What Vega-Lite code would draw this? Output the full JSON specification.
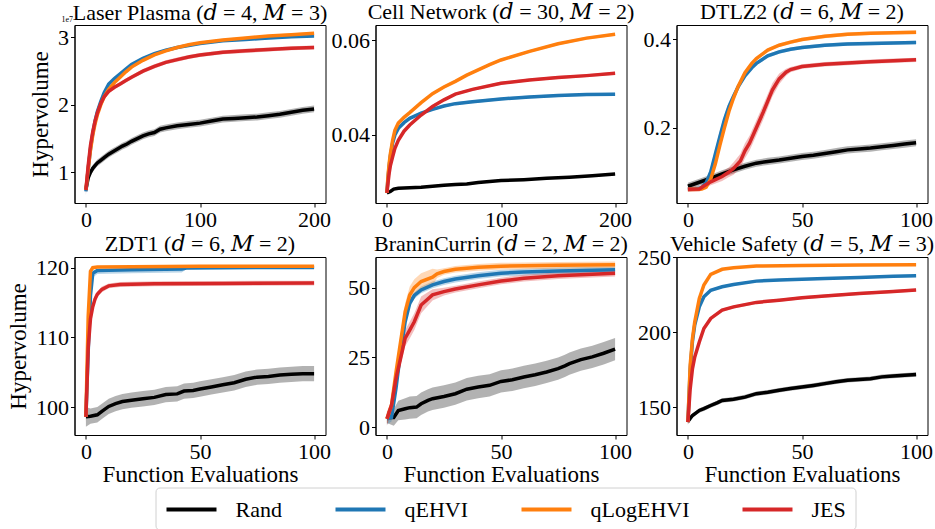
{
"$schema": "https://vega.github.io/schema/vega-lite/v6.json",
"background": "#ffffff",
"padding": {"left": 6.5, "top": 0, "right": 0, "bottom": 0},
"columns": 3,
"spacing": {"row": 54, "column": 50},
"bounds": "flush",
"datasets": {"d": [
{"p":"LP","s":"Rand","x":0,"m":0.75,"lo":0.71,"hi":0.79},
{"p":"LP","s":"Rand","x":2,"m":0.92,"lo":0.87,"hi":0.97},
{"p":"LP","s":"Rand","x":4,"m":1.0,"lo":0.95,"hi":1.05},
{"p":"LP","s":"Rand","x":6,"m":1.06,"lo":1.01,"hi":1.11},
{"p":"LP","s":"Rand","x":8,"m":1.1,"lo":1.05,"hi":1.15},
{"p":"LP","s":"Rand","x":10,"m":1.14,"lo":1.09,"hi":1.19},
{"p":"LP","s":"Rand","x":13,"m":1.18,"lo":1.13,"hi":1.23},
{"p":"LP","s":"Rand","x":16,"m":1.22,"lo":1.17,"hi":1.27},
{"p":"LP","s":"Rand","x":20,"m":1.27,"lo":1.22,"hi":1.32},
{"p":"LP","s":"Rand","x":24,"m":1.31,"lo":1.26,"hi":1.36},
{"p":"LP","s":"Rand","x":28,"m":1.35,"lo":1.3,"hi":1.4},
{"p":"LP","s":"Rand","x":32,"m":1.39,"lo":1.34,"hi":1.44},
{"p":"LP","s":"Rand","x":36,"m":1.42,"lo":1.37,"hi":1.47},
{"p":"LP","s":"Rand","x":40,"m":1.46,"lo":1.41,"hi":1.51},
{"p":"LP","s":"Rand","x":45,"m":1.5,"lo":1.45,"hi":1.55},
{"p":"LP","s":"Rand","x":50,"m":1.54,"lo":1.49,"hi":1.59},
{"p":"LP","s":"Rand","x":55,"m":1.57,"lo":1.52,"hi":1.62},
{"p":"LP","s":"Rand","x":60,"m":1.59,"lo":1.54,"hi":1.64},
{"p":"LP","s":"Rand","x":65,"m":1.64,"lo":1.59,"hi":1.69},
{"p":"LP","s":"Rand","x":70,"m":1.66,"lo":1.61,"hi":1.71},
{"p":"LP","s":"Rand","x":80,"m":1.69,"lo":1.64,"hi":1.74},
{"p":"LP","s":"Rand","x":90,"m":1.71,"lo":1.66,"hi":1.76},
{"p":"LP","s":"Rand","x":100,"m":1.73,"lo":1.68,"hi":1.78},
{"p":"LP","s":"Rand","x":110,"m":1.76,"lo":1.71,"hi":1.81},
{"p":"LP","s":"Rand","x":120,"m":1.79,"lo":1.74,"hi":1.84},
{"p":"LP","s":"Rand","x":130,"m":1.8,"lo":1.75,"hi":1.85},
{"p":"LP","s":"Rand","x":140,"m":1.81,"lo":1.76,"hi":1.86},
{"p":"LP","s":"Rand","x":150,"m":1.82,"lo":1.77,"hi":1.87},
{"p":"LP","s":"Rand","x":160,"m":1.84,"lo":1.79,"hi":1.89},
{"p":"LP","s":"Rand","x":170,"m":1.86,"lo":1.81,"hi":1.91},
{"p":"LP","s":"Rand","x":180,"m":1.89,"lo":1.84,"hi":1.94},
{"p":"LP","s":"Rand","x":190,"m":1.92,"lo":1.87,"hi":1.97},
{"p":"LP","s":"Rand","x":200,"m":1.94,"lo":1.89,"hi":1.99},
{"p":"LP","s":"qEHVI","x":0,"m":0.72,"lo":0.68,"hi":0.76},
{"p":"LP","s":"qEHVI","x":2,"m":1.05,"lo":1.03,"hi":1.07},
{"p":"LP","s":"qEHVI","x":4,"m":1.35,"lo":1.33,"hi":1.37},
{"p":"LP","s":"qEHVI","x":6,"m":1.58,"lo":1.56,"hi":1.6},
{"p":"LP","s":"qEHVI","x":8,"m":1.76,"lo":1.74,"hi":1.78},
{"p":"LP","s":"qEHVI","x":10,"m":1.9,"lo":1.88,"hi":1.92},
{"p":"LP","s":"qEHVI","x":13,"m":2.05,"lo":2.03,"hi":2.07},
{"p":"LP","s":"qEHVI","x":16,"m":2.18,"lo":2.16,"hi":2.2},
{"p":"LP","s":"qEHVI","x":20,"m":2.31,"lo":2.29,"hi":2.33},
{"p":"LP","s":"qEHVI","x":25,"m":2.39,"lo":2.37,"hi":2.41},
{"p":"LP","s":"qEHVI","x":30,"m":2.46,"lo":2.44,"hi":2.48},
{"p":"LP","s":"qEHVI","x":35,"m":2.53,"lo":2.51,"hi":2.55},
{"p":"LP","s":"qEHVI","x":40,"m":2.6,"lo":2.58,"hi":2.62},
{"p":"LP","s":"qEHVI","x":50,"m":2.69,"lo":2.67,"hi":2.71},
{"p":"LP","s":"qEHVI","x":60,"m":2.76,"lo":2.74,"hi":2.78},
{"p":"LP","s":"qEHVI","x":70,"m":2.81,"lo":2.79,"hi":2.83},
{"p":"LP","s":"qEHVI","x":80,"m":2.85,"lo":2.83,"hi":2.87},
{"p":"LP","s":"qEHVI","x":90,"m":2.88,"lo":2.86,"hi":2.9},
{"p":"LP","s":"qEHVI","x":100,"m":2.91,"lo":2.89,"hi":2.93},
{"p":"LP","s":"qEHVI","x":120,"m":2.95,"lo":2.93,"hi":2.97},
{"p":"LP","s":"qEHVI","x":140,"m":2.97,"lo":2.95,"hi":2.99},
{"p":"LP","s":"qEHVI","x":160,"m":2.99,"lo":2.97,"hi":3.01},
{"p":"LP","s":"qEHVI","x":180,"m":3.01,"lo":2.99,"hi":3.03},
{"p":"LP","s":"qEHVI","x":200,"m":3.02,"lo":3.0,"hi":3.04},
{"p":"LP","s":"qLogEHVI","x":0,"m":0.74,"lo":0.7,"hi":0.78},
{"p":"LP","s":"qLogEHVI","x":2,"m":1.05,"lo":1.03,"hi":1.07},
{"p":"LP","s":"qLogEHVI","x":4,"m":1.33,"lo":1.31,"hi":1.35},
{"p":"LP","s":"qLogEHVI","x":6,"m":1.55,"lo":1.53,"hi":1.57},
{"p":"LP","s":"qLogEHVI","x":8,"m":1.72,"lo":1.7,"hi":1.74},
{"p":"LP","s":"qLogEHVI","x":10,"m":1.85,"lo":1.83,"hi":1.87},
{"p":"LP","s":"qLogEHVI","x":13,"m":2.0,"lo":1.98,"hi":2.02},
{"p":"LP","s":"qLogEHVI","x":16,"m":2.12,"lo":2.1,"hi":2.14},
{"p":"LP","s":"qLogEHVI","x":20,"m":2.23,"lo":2.21,"hi":2.25},
{"p":"LP","s":"qLogEHVI","x":25,"m":2.33,"lo":2.31,"hi":2.35},
{"p":"LP","s":"qLogEHVI","x":30,"m":2.41,"lo":2.39,"hi":2.43},
{"p":"LP","s":"qLogEHVI","x":35,"m":2.49,"lo":2.47,"hi":2.51},
{"p":"LP","s":"qLogEHVI","x":40,"m":2.56,"lo":2.54,"hi":2.58},
{"p":"LP","s":"qLogEHVI","x":50,"m":2.66,"lo":2.64,"hi":2.68},
{"p":"LP","s":"qLogEHVI","x":60,"m":2.74,"lo":2.72,"hi":2.76},
{"p":"LP","s":"qLogEHVI","x":70,"m":2.8,"lo":2.78,"hi":2.82},
{"p":"LP","s":"qLogEHVI","x":80,"m":2.85,"lo":2.83,"hi":2.87},
{"p":"LP","s":"qLogEHVI","x":90,"m":2.89,"lo":2.87,"hi":2.91},
{"p":"LP","s":"qLogEHVI","x":100,"m":2.92,"lo":2.9,"hi":2.94},
{"p":"LP","s":"qLogEHVI","x":120,"m":2.96,"lo":2.94,"hi":2.98},
{"p":"LP","s":"qLogEHVI","x":140,"m":2.99,"lo":2.97,"hi":3.01},
{"p":"LP","s":"qLogEHVI","x":160,"m":3.02,"lo":3.0,"hi":3.04},
{"p":"LP","s":"qLogEHVI","x":180,"m":3.04,"lo":3.02,"hi":3.06},
{"p":"LP","s":"qLogEHVI","x":200,"m":3.06,"lo":3.04,"hi":3.08},
{"p":"LP","s":"JES","x":0,"m":0.74,"lo":0.66,"hi":0.8},
{"p":"LP","s":"JES","x":2,"m":1.1,"lo":1.07,"hi":1.13},
{"p":"LP","s":"JES","x":4,"m":1.4,"lo":1.37,"hi":1.43},
{"p":"LP","s":"JES","x":6,"m":1.6,"lo":1.57,"hi":1.63},
{"p":"LP","s":"JES","x":8,"m":1.76,"lo":1.73,"hi":1.79},
{"p":"LP","s":"JES","x":10,"m":1.88,"lo":1.85,"hi":1.91},
{"p":"LP","s":"JES","x":13,"m":2.02,"lo":1.99,"hi":2.05},
{"p":"LP","s":"JES","x":16,"m":2.12,"lo":2.09,"hi":2.15},
{"p":"LP","s":"JES","x":20,"m":2.2,"lo":2.17,"hi":2.23},
{"p":"LP","s":"JES","x":25,"m":2.26,"lo":2.23,"hi":2.29},
{"p":"LP","s":"JES","x":30,"m":2.31,"lo":2.28,"hi":2.34},
{"p":"LP","s":"JES","x":35,"m":2.36,"lo":2.33,"hi":2.39},
{"p":"LP","s":"JES","x":40,"m":2.41,"lo":2.38,"hi":2.44},
{"p":"LP","s":"JES","x":50,"m":2.5,"lo":2.47,"hi":2.53},
{"p":"LP","s":"JES","x":60,"m":2.57,"lo":2.54,"hi":2.6},
{"p":"LP","s":"JES","x":70,"m":2.63,"lo":2.6,"hi":2.66},
{"p":"LP","s":"JES","x":80,"m":2.67,"lo":2.64,"hi":2.7},
{"p":"LP","s":"JES","x":90,"m":2.71,"lo":2.68,"hi":2.74},
{"p":"LP","s":"JES","x":100,"m":2.74,"lo":2.71,"hi":2.77},
{"p":"LP","s":"JES","x":120,"m":2.78,"lo":2.75,"hi":2.81},
{"p":"LP","s":"JES","x":140,"m":2.8,"lo":2.77,"hi":2.83},
{"p":"LP","s":"JES","x":160,"m":2.82,"lo":2.79,"hi":2.85},
{"p":"LP","s":"JES","x":180,"m":2.84,"lo":2.81,"hi":2.87},
{"p":"LP","s":"JES","x":200,"m":2.85,"lo":2.82,"hi":2.88},

{"p":"CN","s":"Rand","x":0,"m":0.0278,"lo":0.0276,"hi":0.028},
{"p":"CN","s":"Rand","x":3,"m":0.0281,"lo":0.0279,"hi":0.0283},
{"p":"CN","s":"Rand","x":6,"m":0.0286,"lo":0.0284,"hi":0.0288},
{"p":"CN","s":"Rand","x":10,"m":0.0288,"lo":0.0286,"hi":0.029},
{"p":"CN","s":"Rand","x":20,"m":0.0289,"lo":0.0287,"hi":0.0291},
{"p":"CN","s":"Rand","x":30,"m":0.029,"lo":0.0288,"hi":0.0292},
{"p":"CN","s":"Rand","x":40,"m":0.0292,"lo":0.029,"hi":0.0294},
{"p":"CN","s":"Rand","x":50,"m":0.0294,"lo":0.0292,"hi":0.0296},
{"p":"CN","s":"Rand","x":60,"m":0.0296,"lo":0.0294,"hi":0.0298},
{"p":"CN","s":"Rand","x":70,"m":0.0297,"lo":0.0295,"hi":0.0299},
{"p":"CN","s":"Rand","x":80,"m":0.03,"lo":0.0298,"hi":0.0302},
{"p":"CN","s":"Rand","x":90,"m":0.0302,"lo":0.03,"hi":0.0304},
{"p":"CN","s":"Rand","x":100,"m":0.0304,"lo":0.0302,"hi":0.0306},
{"p":"CN","s":"Rand","x":120,"m":0.0306,"lo":0.0304,"hi":0.0308},
{"p":"CN","s":"Rand","x":140,"m":0.0309,"lo":0.0307,"hi":0.0311},
{"p":"CN","s":"Rand","x":160,"m":0.0311,"lo":0.0309,"hi":0.0313},
{"p":"CN","s":"Rand","x":180,"m":0.0314,"lo":0.0312,"hi":0.0316},
{"p":"CN","s":"Rand","x":200,"m":0.0318,"lo":0.0316,"hi":0.032},
{"p":"CN","s":"qEHVI","x":0,"m":0.0278,"lo":0.0276,"hi":0.028},
{"p":"CN","s":"qEHVI","x":1,"m":0.031,"lo":0.0307,"hi":0.0313},
{"p":"CN","s":"qEHVI","x":2,"m":0.0335,"lo":0.0332,"hi":0.0338},
{"p":"CN","s":"qEHVI","x":3,"m":0.0355,"lo":0.0352,"hi":0.0358},
{"p":"CN","s":"qEHVI","x":5,"m":0.0383,"lo":0.038,"hi":0.0386},
{"p":"CN","s":"qEHVI","x":7,"m":0.04,"lo":0.0397,"hi":0.0403},
{"p":"CN","s":"qEHVI","x":10,"m":0.0414,"lo":0.0411,"hi":0.0417},
{"p":"CN","s":"qEHVI","x":15,"m":0.0426,"lo":0.0423,"hi":0.0429},
{"p":"CN","s":"qEHVI","x":20,"m":0.0435,"lo":0.0432,"hi":0.0438},
{"p":"CN","s":"qEHVI","x":30,"m":0.0446,"lo":0.0443,"hi":0.0449},
{"p":"CN","s":"qEHVI","x":40,"m":0.0454,"lo":0.0451,"hi":0.0457},
{"p":"CN","s":"qEHVI","x":50,"m":0.0461,"lo":0.0458,"hi":0.0464},
{"p":"CN","s":"qEHVI","x":60,"m":0.0466,"lo":0.0463,"hi":0.0469},
{"p":"CN","s":"qEHVI","x":75,"m":0.047,"lo":0.0467,"hi":0.0473},
{"p":"CN","s":"qEHVI","x":100,"m":0.0476,"lo":0.0473,"hi":0.0479},
{"p":"CN","s":"qEHVI","x":125,"m":0.048,"lo":0.0477,"hi":0.0483},
{"p":"CN","s":"qEHVI","x":150,"m":0.0483,"lo":0.048,"hi":0.0486},
{"p":"CN","s":"qEHVI","x":175,"m":0.0485,"lo":0.0482,"hi":0.0488},
{"p":"CN","s":"qEHVI","x":200,"m":0.0486,"lo":0.0483,"hi":0.0489},
{"p":"CN","s":"qLogEHVI","x":0,"m":0.0278,"lo":0.0276,"hi":0.028},
{"p":"CN","s":"qLogEHVI","x":1,"m":0.0315,"lo":0.0312,"hi":0.0318},
{"p":"CN","s":"qLogEHVI","x":2,"m":0.034,"lo":0.0337,"hi":0.0343},
{"p":"CN","s":"qLogEHVI","x":3,"m":0.036,"lo":0.0357,"hi":0.0363},
{"p":"CN","s":"qLogEHVI","x":5,"m":0.0389,"lo":0.0386,"hi":0.0392},
{"p":"CN","s":"qLogEHVI","x":7,"m":0.041,"lo":0.0407,"hi":0.0413},
{"p":"CN","s":"qLogEHVI","x":10,"m":0.0425,"lo":0.0422,"hi":0.0428},
{"p":"CN","s":"qLogEHVI","x":15,"m":0.0437,"lo":0.0434,"hi":0.044},
{"p":"CN","s":"qLogEHVI","x":20,"m":0.0447,"lo":0.0444,"hi":0.045},
{"p":"CN","s":"qLogEHVI","x":30,"m":0.0468,"lo":0.0465,"hi":0.0471},
{"p":"CN","s":"qLogEHVI","x":40,"m":0.0487,"lo":0.0484,"hi":0.049},
{"p":"CN","s":"qLogEHVI","x":50,"m":0.0501,"lo":0.0498,"hi":0.0504},
{"p":"CN","s":"qLogEHVI","x":60,"m":0.0513,"lo":0.051,"hi":0.0516},
{"p":"CN","s":"qLogEHVI","x":70,"m":0.0526,"lo":0.0523,"hi":0.0529},
{"p":"CN","s":"qLogEHVI","x":80,"m":0.0537,"lo":0.0534,"hi":0.054},
{"p":"CN","s":"qLogEHVI","x":90,"m":0.0548,"lo":0.0545,"hi":0.0551},
{"p":"CN","s":"qLogEHVI","x":100,"m":0.0558,"lo":0.0555,"hi":0.0561},
{"p":"CN","s":"qLogEHVI","x":125,"m":0.0576,"lo":0.0573,"hi":0.0579},
{"p":"CN","s":"qLogEHVI","x":150,"m":0.0592,"lo":0.0589,"hi":0.0595},
{"p":"CN","s":"qLogEHVI","x":175,"m":0.0604,"lo":0.0601,"hi":0.0607},
{"p":"CN","s":"qLogEHVI","x":200,"m":0.0612,"lo":0.0609,"hi":0.0615},
{"p":"CN","s":"JES","x":0,"m":0.0278,"lo":0.0276,"hi":0.028},
{"p":"CN","s":"JES","x":1,"m":0.03,"lo":0.0297,"hi":0.0303},
{"p":"CN","s":"JES","x":2,"m":0.032,"lo":0.0317,"hi":0.0323},
{"p":"CN","s":"JES","x":3,"m":0.0335,"lo":0.0332,"hi":0.0338},
{"p":"CN","s":"JES","x":5,"m":0.0354,"lo":0.0351,"hi":0.0357},
{"p":"CN","s":"JES","x":7,"m":0.0372,"lo":0.0369,"hi":0.0375},
{"p":"CN","s":"JES","x":10,"m":0.0389,"lo":0.0386,"hi":0.0392},
{"p":"CN","s":"JES","x":15,"m":0.0408,"lo":0.0405,"hi":0.0411},
{"p":"CN","s":"JES","x":20,"m":0.0421,"lo":0.0418,"hi":0.0424},
{"p":"CN","s":"JES","x":30,"m":0.0442,"lo":0.0439,"hi":0.0445},
{"p":"CN","s":"JES","x":40,"m":0.046,"lo":0.0457,"hi":0.0463},
{"p":"CN","s":"JES","x":50,"m":0.0474,"lo":0.0471,"hi":0.0477},
{"p":"CN","s":"JES","x":60,"m":0.0486,"lo":0.0483,"hi":0.0489},
{"p":"CN","s":"JES","x":75,"m":0.0496,"lo":0.0493,"hi":0.0499},
{"p":"CN","s":"JES","x":100,"m":0.0509,"lo":0.0506,"hi":0.0512},
{"p":"CN","s":"JES","x":125,"m":0.0516,"lo":0.0513,"hi":0.0519},
{"p":"CN","s":"JES","x":150,"m":0.0521,"lo":0.0518,"hi":0.0524},
{"p":"CN","s":"JES","x":175,"m":0.0525,"lo":0.0522,"hi":0.0528},
{"p":"CN","s":"JES","x":200,"m":0.053,"lo":0.0527,"hi":0.0533},

{"p":"DT","s":"Rand","x":0,"m":0.068,"lo":0.06,"hi":0.076},
{"p":"DT","s":"Rand","x":5,"m":0.077,"lo":0.069,"hi":0.085},
{"p":"DT","s":"Rand","x":10,"m":0.086,"lo":0.078,"hi":0.094},
{"p":"DT","s":"Rand","x":15,"m":0.096,"lo":0.088,"hi":0.104},
{"p":"DT","s":"Rand","x":20,"m":0.105,"lo":0.097,"hi":0.113},
{"p":"DT","s":"Rand","x":25,"m":0.113,"lo":0.105,"hi":0.121},
{"p":"DT","s":"Rand","x":30,"m":0.12,"lo":0.112,"hi":0.128},
{"p":"DT","s":"Rand","x":35,"m":0.124,"lo":0.116,"hi":0.132},
{"p":"DT","s":"Rand","x":40,"m":0.127,"lo":0.119,"hi":0.135},
{"p":"DT","s":"Rand","x":45,"m":0.131,"lo":0.123,"hi":0.139},
{"p":"DT","s":"Rand","x":50,"m":0.135,"lo":0.127,"hi":0.143},
{"p":"DT","s":"Rand","x":55,"m":0.138,"lo":0.13,"hi":0.146},
{"p":"DT","s":"Rand","x":60,"m":0.142,"lo":0.134,"hi":0.15},
{"p":"DT","s":"Rand","x":65,"m":0.146,"lo":0.138,"hi":0.154},
{"p":"DT","s":"Rand","x":70,"m":0.15,"lo":0.142,"hi":0.158},
{"p":"DT","s":"Rand","x":75,"m":0.152,"lo":0.144,"hi":0.16},
{"p":"DT","s":"Rand","x":80,"m":0.154,"lo":0.146,"hi":0.162},
{"p":"DT","s":"Rand","x":85,"m":0.157,"lo":0.149,"hi":0.165},
{"p":"DT","s":"Rand","x":90,"m":0.16,"lo":0.152,"hi":0.168},
{"p":"DT","s":"Rand","x":95,"m":0.163,"lo":0.155,"hi":0.171},
{"p":"DT","s":"Rand","x":100,"m":0.166,"lo":0.158,"hi":0.174},
{"p":"DT","s":"qEHVI","x":0,"m":0.061,"lo":0.056,"hi":0.066},
{"p":"DT","s":"qEHVI","x":3,"m":0.062,"lo":0.058,"hi":0.066},
{"p":"DT","s":"qEHVI","x":6,"m":0.064,"lo":0.06,"hi":0.068},
{"p":"DT","s":"qEHVI","x":8,"m":0.076,"lo":0.068,"hi":0.084},
{"p":"DT","s":"qEHVI","x":10,"m":0.1,"lo":0.088,"hi":0.112},
{"p":"DT","s":"qEHVI","x":12,"m":0.14,"lo":0.128,"hi":0.152},
{"p":"DT","s":"qEHVI","x":14,"m":0.18,"lo":0.168,"hi":0.192},
{"p":"DT","s":"qEHVI","x":16,"m":0.218,"lo":0.206,"hi":0.23},
{"p":"DT","s":"qEHVI","x":18,"m":0.248,"lo":0.238,"hi":0.258},
{"p":"DT","s":"qEHVI","x":20,"m":0.271,"lo":0.263,"hi":0.279},
{"p":"DT","s":"qEHVI","x":22,"m":0.292,"lo":0.286,"hi":0.298},
{"p":"DT","s":"qEHVI","x":25,"m":0.317,"lo":0.313,"hi":0.321},
{"p":"DT","s":"qEHVI","x":28,"m":0.335,"lo":0.331,"hi":0.339},
{"p":"DT","s":"qEHVI","x":30,"m":0.345,"lo":0.341,"hi":0.349},
{"p":"DT","s":"qEHVI","x":35,"m":0.362,"lo":0.358,"hi":0.366},
{"p":"DT","s":"qEHVI","x":40,"m":0.371,"lo":0.367,"hi":0.375},
{"p":"DT","s":"qEHVI","x":45,"m":0.377,"lo":0.373,"hi":0.381},
{"p":"DT","s":"qEHVI","x":50,"m":0.381,"lo":0.377,"hi":0.385},
{"p":"DT","s":"qEHVI","x":60,"m":0.386,"lo":0.382,"hi":0.39},
{"p":"DT","s":"qEHVI","x":70,"m":0.389,"lo":0.385,"hi":0.393},
{"p":"DT","s":"qEHVI","x":80,"m":0.39,"lo":0.386,"hi":0.394},
{"p":"DT","s":"qEHVI","x":90,"m":0.391,"lo":0.387,"hi":0.395},
{"p":"DT","s":"qEHVI","x":100,"m":0.392,"lo":0.388,"hi":0.396},
{"p":"DT","s":"qLogEHVI","x":0,"m":0.061,"lo":0.055,"hi":0.067},
{"p":"DT","s":"qLogEHVI","x":3,"m":0.061,"lo":0.056,"hi":0.066},
{"p":"DT","s":"qLogEHVI","x":6,"m":0.062,"lo":0.057,"hi":0.067},
{"p":"DT","s":"qLogEHVI","x":8,"m":0.066,"lo":0.061,"hi":0.071},
{"p":"DT","s":"qLogEHVI","x":10,"m":0.084,"lo":0.078,"hi":0.09},
{"p":"DT","s":"qLogEHVI","x":12,"m":0.118,"lo":0.112,"hi":0.124},
{"p":"DT","s":"qLogEHVI","x":14,"m":0.16,"lo":0.154,"hi":0.166},
{"p":"DT","s":"qLogEHVI","x":16,"m":0.2,"lo":0.194,"hi":0.206},
{"p":"DT","s":"qLogEHVI","x":18,"m":0.237,"lo":0.231,"hi":0.243},
{"p":"DT","s":"qLogEHVI","x":20,"m":0.267,"lo":0.262,"hi":0.272},
{"p":"DT","s":"qLogEHVI","x":22,"m":0.293,"lo":0.289,"hi":0.297},
{"p":"DT","s":"qLogEHVI","x":25,"m":0.324,"lo":0.32,"hi":0.328},
{"p":"DT","s":"qLogEHVI","x":28,"m":0.345,"lo":0.341,"hi":0.349},
{"p":"DT","s":"qLogEHVI","x":30,"m":0.356,"lo":0.352,"hi":0.36},
{"p":"DT","s":"qLogEHVI","x":35,"m":0.375,"lo":0.371,"hi":0.379},
{"p":"DT","s":"qLogEHVI","x":40,"m":0.386,"lo":0.382,"hi":0.39},
{"p":"DT","s":"qLogEHVI","x":45,"m":0.393,"lo":0.389,"hi":0.397},
{"p":"DT","s":"qLogEHVI","x":50,"m":0.399,"lo":0.395,"hi":0.403},
{"p":"DT","s":"qLogEHVI","x":60,"m":0.406,"lo":0.402,"hi":0.41},
{"p":"DT","s":"qLogEHVI","x":70,"m":0.411,"lo":0.407,"hi":0.415},
{"p":"DT","s":"qLogEHVI","x":80,"m":0.413,"lo":0.409,"hi":0.417},
{"p":"DT","s":"qLogEHVI","x":90,"m":0.414,"lo":0.41,"hi":0.418},
{"p":"DT","s":"qLogEHVI","x":100,"m":0.415,"lo":0.411,"hi":0.419},
{"p":"DT","s":"JES","x":0,"m":0.061,"lo":0.055,"hi":0.067},
{"p":"DT","s":"JES","x":5,"m":0.062,"lo":0.056,"hi":0.068},
{"p":"DT","s":"JES","x":8,"m":0.072,"lo":0.065,"hi":0.079},
{"p":"DT","s":"JES","x":10,"m":0.078,"lo":0.07,"hi":0.086},
{"p":"DT","s":"JES","x":15,"m":0.09,"lo":0.08,"hi":0.1},
{"p":"DT","s":"JES","x":18,"m":0.1,"lo":0.089,"hi":0.111},
{"p":"DT","s":"JES","x":20,"m":0.108,"lo":0.094,"hi":0.122},
{"p":"DT","s":"JES","x":23,"m":0.125,"lo":0.109,"hi":0.141},
{"p":"DT","s":"JES","x":25,"m":0.148,"lo":0.131,"hi":0.165},
{"p":"DT","s":"JES","x":27,"m":0.165,"lo":0.148,"hi":0.182},
{"p":"DT","s":"JES","x":30,"m":0.2,"lo":0.183,"hi":0.217},
{"p":"DT","s":"JES","x":33,"m":0.235,"lo":0.218,"hi":0.252},
{"p":"DT","s":"JES","x":35,"m":0.26,"lo":0.244,"hi":0.276},
{"p":"DT","s":"JES","x":37,"m":0.285,"lo":0.27,"hi":0.3},
{"p":"DT","s":"JES","x":40,"m":0.31,"lo":0.298,"hi":0.322},
{"p":"DT","s":"JES","x":43,"m":0.325,"lo":0.317,"hi":0.333},
{"p":"DT","s":"JES","x":45,"m":0.331,"lo":0.325,"hi":0.337},
{"p":"DT","s":"JES","x":50,"m":0.338,"lo":0.333,"hi":0.343},
{"p":"DT","s":"JES","x":60,"m":0.343,"lo":0.338,"hi":0.348},
{"p":"DT","s":"JES","x":70,"m":0.346,"lo":0.341,"hi":0.351},
{"p":"DT","s":"JES","x":80,"m":0.349,"lo":0.344,"hi":0.354},
{"p":"DT","s":"JES","x":90,"m":0.351,"lo":0.346,"hi":0.356},
{"p":"DT","s":"JES","x":100,"m":0.353,"lo":0.348,"hi":0.358},

{"p":"ZD","s":"Rand","x":0,"m":98.6,"lo":97.2,"hi":100.0},
{"p":"ZD","s":"Rand","x":2,"m":98.7,"lo":97.6,"hi":99.8},
{"p":"ZD","s":"Rand","x":5,"m":98.9,"lo":97.8,"hi":100.0},
{"p":"ZD","s":"Rand","x":7,"m":99.4,"lo":98.3,"hi":100.5},
{"p":"ZD","s":"Rand","x":10,"m":100.1,"lo":99.0,"hi":101.2},
{"p":"ZD","s":"Rand","x":13,"m":100.5,"lo":99.4,"hi":101.6},
{"p":"ZD","s":"Rand","x":16,"m":100.8,"lo":99.7,"hi":101.9},
{"p":"ZD","s":"Rand","x":20,"m":101.0,"lo":99.9,"hi":102.1},
{"p":"ZD","s":"Rand","x":25,"m":101.2,"lo":100.1,"hi":102.3},
{"p":"ZD","s":"Rand","x":30,"m":101.4,"lo":100.3,"hi":102.5},
{"p":"ZD","s":"Rand","x":35,"m":101.8,"lo":100.7,"hi":102.9},
{"p":"ZD","s":"Rand","x":40,"m":101.9,"lo":100.8,"hi":103.0},
{"p":"ZD","s":"Rand","x":43,"m":102.3,"lo":101.2,"hi":103.4},
{"p":"ZD","s":"Rand","x":47,"m":102.4,"lo":101.3,"hi":103.5},
{"p":"ZD","s":"Rand","x":50,"m":102.6,"lo":101.5,"hi":103.7},
{"p":"ZD","s":"Rand","x":55,"m":102.9,"lo":101.8,"hi":104.0},
{"p":"ZD","s":"Rand","x":60,"m":103.2,"lo":102.1,"hi":104.3},
{"p":"ZD","s":"Rand","x":65,"m":103.5,"lo":102.4,"hi":104.6},
{"p":"ZD","s":"Rand","x":70,"m":104.0,"lo":102.9,"hi":105.1},
{"p":"ZD","s":"Rand","x":75,"m":104.3,"lo":103.2,"hi":105.4},
{"p":"ZD","s":"Rand","x":80,"m":104.4,"lo":103.3,"hi":105.5},
{"p":"ZD","s":"Rand","x":85,"m":104.6,"lo":103.5,"hi":105.7},
{"p":"ZD","s":"Rand","x":90,"m":104.7,"lo":103.6,"hi":105.8},
{"p":"ZD","s":"Rand","x":95,"m":104.8,"lo":103.7,"hi":105.9},
{"p":"ZD","s":"Rand","x":100,"m":104.8,"lo":103.7,"hi":105.9},
{"p":"ZD","s":"qEHVI","x":0,"m":98.6,"lo":98.2,"hi":99.0},
{"p":"ZD","s":"qEHVI","x":1,"m":108.0,"lo":107.0,"hi":109.0},
{"p":"ZD","s":"qEHVI","x":2,"m":116.0,"lo":115.0,"hi":117.0},
{"p":"ZD","s":"qEHVI","x":3,"m":119.2,"lo":118.6,"hi":119.6},
{"p":"ZD","s":"qEHVI","x":5,"m":119.6,"lo":119.1,"hi":119.8},
{"p":"ZD","s":"qEHVI","x":20,"m":119.7,"lo":119.2,"hi":119.9},
{"p":"ZD","s":"qEHVI","x":42,"m":119.8,"lo":119.3,"hi":120.0},
{"p":"ZD","s":"qEHVI","x":44,"m":119.95,"lo":119.8,"hi":120.1},
{"p":"ZD","s":"qEHVI","x":60,"m":120.0,"lo":119.85,"hi":120.15},
{"p":"ZD","s":"qEHVI","x":100,"m":120.05,"lo":119.9,"hi":120.2},
{"p":"ZD","s":"qLogEHVI","x":0,"m":98.6,"lo":98.2,"hi":99.0},
{"p":"ZD","s":"qLogEHVI","x":1,"m":113.0,"lo":112.5,"hi":113.5},
{"p":"ZD","s":"qLogEHVI","x":2,"m":119.5,"lo":119.2,"hi":119.8},
{"p":"ZD","s":"qLogEHVI","x":3,"m":120.0,"lo":119.85,"hi":120.15},
{"p":"ZD","s":"qLogEHVI","x":5,"m":120.1,"lo":119.95,"hi":120.25},
{"p":"ZD","s":"qLogEHVI","x":50,"m":120.2,"lo":120.05,"hi":120.35},
{"p":"ZD","s":"qLogEHVI","x":100,"m":120.2,"lo":120.05,"hi":120.35},
{"p":"ZD","s":"JES","x":0,"m":98.6,"lo":97.8,"hi":99.2},
{"p":"ZD","s":"JES","x":1,"m":108.5,"lo":107.8,"hi":109.2},
{"p":"ZD","s":"JES","x":2,"m":112.7,"lo":112.1,"hi":113.3},
{"p":"ZD","s":"JES","x":3,"m":114.4,"lo":113.9,"hi":114.9},
{"p":"ZD","s":"JES","x":4,"m":115.5,"lo":115.0,"hi":116.0},
{"p":"ZD","s":"JES","x":5,"m":116.2,"lo":115.8,"hi":116.6},
{"p":"ZD","s":"JES","x":7,"m":116.9,"lo":116.5,"hi":117.3},
{"p":"ZD","s":"JES","x":10,"m":117.4,"lo":117.05,"hi":117.75},
{"p":"ZD","s":"JES","x":15,"m":117.6,"lo":117.25,"hi":117.95},
{"p":"ZD","s":"JES","x":30,"m":117.7,"lo":117.35,"hi":118.05},
{"p":"ZD","s":"JES","x":60,"m":117.75,"lo":117.4,"hi":118.1},
{"p":"ZD","s":"JES","x":100,"m":117.8,"lo":117.45,"hi":118.15},

{"p":"BC","s":"Rand","x":0,"m":3.5,"lo":1.5,"hi":5.5},
{"p":"BC","s":"Rand","x":3,"m":3.5,"lo":0.5,"hi":6.5},
{"p":"BC","s":"Rand","x":5,"m":6.0,"lo":2.5,"hi":9.5},
{"p":"BC","s":"Rand","x":8,"m":6.6,"lo":2.8,"hi":10.4},
{"p":"BC","s":"Rand","x":10,"m":7.0,"lo":3.0,"hi":11.0},
{"p":"BC","s":"Rand","x":13,"m":7.2,"lo":3.2,"hi":11.2},
{"p":"BC","s":"Rand","x":15,"m":8.4,"lo":4.4,"hi":12.4},
{"p":"BC","s":"Rand","x":18,"m":9.6,"lo":5.6,"hi":13.6},
{"p":"BC","s":"Rand","x":20,"m":10.2,"lo":6.2,"hi":14.2},
{"p":"BC","s":"Rand","x":25,"m":11.0,"lo":7.0,"hi":15.0},
{"p":"BC","s":"Rand","x":30,"m":12.0,"lo":8.0,"hi":16.0},
{"p":"BC","s":"Rand","x":35,"m":13.6,"lo":9.6,"hi":17.6},
{"p":"BC","s":"Rand","x":40,"m":14.4,"lo":10.4,"hi":18.4},
{"p":"BC","s":"Rand","x":45,"m":15.0,"lo":11.0,"hi":19.0},
{"p":"BC","s":"Rand","x":50,"m":16.4,"lo":12.4,"hi":20.4},
{"p":"BC","s":"Rand","x":55,"m":17.0,"lo":13.0,"hi":21.0},
{"p":"BC","s":"Rand","x":60,"m":18.0,"lo":14.0,"hi":22.0},
{"p":"BC","s":"Rand","x":65,"m":18.8,"lo":14.8,"hi":22.8},
{"p":"BC","s":"Rand","x":70,"m":19.8,"lo":15.8,"hi":23.8},
{"p":"BC","s":"Rand","x":75,"m":21.0,"lo":17.0,"hi":25.0},
{"p":"BC","s":"Rand","x":78,"m":22.0,"lo":18.0,"hi":26.0},
{"p":"BC","s":"Rand","x":80,"m":22.8,"lo":18.8,"hi":26.8},
{"p":"BC","s":"Rand","x":85,"m":24.2,"lo":20.2,"hi":28.2},
{"p":"BC","s":"Rand","x":90,"m":25.2,"lo":21.2,"hi":29.2},
{"p":"BC","s":"Rand","x":95,"m":26.5,"lo":22.5,"hi":30.5},
{"p":"BC","s":"Rand","x":100,"m":28.0,"lo":24.0,"hi":32.0},
{"p":"BC","s":"qEHVI","x":0,"m":3.0,"lo":1.0,"hi":5.0},
{"p":"BC","s":"qEHVI","x":2,"m":3.5,"lo":2.0,"hi":5.0},
{"p":"BC","s":"qEHVI","x":4,"m":14.0,"lo":12.0,"hi":16.0},
{"p":"BC","s":"qEHVI","x":6,"m":27.0,"lo":25.0,"hi":29.0},
{"p":"BC","s":"qEHVI","x":8,"m":37.8,"lo":36.0,"hi":39.6},
{"p":"BC","s":"qEHVI","x":10,"m":44.4,"lo":42.9,"hi":45.9},
{"p":"BC","s":"qEHVI","x":12,"m":47.2,"lo":46.0,"hi":48.4},
{"p":"BC","s":"qEHVI","x":15,"m":49.2,"lo":48.0,"hi":50.4},
{"p":"BC","s":"qEHVI","x":20,"m":51.0,"lo":49.8,"hi":52.2},
{"p":"BC","s":"qEHVI","x":25,"m":52.2,"lo":51.0,"hi":53.4},
{"p":"BC","s":"qEHVI","x":30,"m":53.1,"lo":51.9,"hi":54.3},
{"p":"BC","s":"qEHVI","x":40,"m":54.3,"lo":53.1,"hi":55.5},
{"p":"BC","s":"qEHVI","x":50,"m":55.2,"lo":54.0,"hi":56.4},
{"p":"BC","s":"qEHVI","x":60,"m":55.6,"lo":54.4,"hi":56.8},
{"p":"BC","s":"qEHVI","x":75,"m":56.0,"lo":54.8,"hi":57.2},
{"p":"BC","s":"qEHVI","x":100,"m":56.4,"lo":55.2,"hi":57.6},
{"p":"BC","s":"qLogEHVI","x":0,"m":3.0,"lo":1.0,"hi":5.0},
{"p":"BC","s":"qLogEHVI","x":2,"m":7.8,"lo":6.0,"hi":9.6},
{"p":"BC","s":"qLogEHVI","x":4,"m":19.8,"lo":17.5,"hi":22.1},
{"p":"BC","s":"qLogEHVI","x":6,"m":30.6,"lo":27.6,"hi":33.6},
{"p":"BC","s":"qLogEHVI","x":8,"m":41.4,"lo":38.4,"hi":44.4},
{"p":"BC","s":"qLogEHVI","x":10,"m":47.4,"lo":44.4,"hi":50.4},
{"p":"BC","s":"qLogEHVI","x":12,"m":50.0,"lo":47.0,"hi":53.0},
{"p":"BC","s":"qLogEHVI","x":15,"m":52.2,"lo":49.2,"hi":55.2},
{"p":"BC","s":"qLogEHVI","x":20,"m":53.8,"lo":50.8,"hi":56.8},
{"p":"BC","s":"qLogEHVI","x":22,"m":55.0,"lo":53.5,"hi":56.5},
{"p":"BC","s":"qLogEHVI","x":25,"m":55.8,"lo":54.6,"hi":57.0},
{"p":"BC","s":"qLogEHVI","x":30,"m":56.6,"lo":55.4,"hi":57.8},
{"p":"BC","s":"qLogEHVI","x":40,"m":57.3,"lo":56.1,"hi":58.5},
{"p":"BC","s":"qLogEHVI","x":50,"m":57.7,"lo":56.5,"hi":58.9},
{"p":"BC","s":"qLogEHVI","x":75,"m":58.0,"lo":56.8,"hi":59.2},
{"p":"BC","s":"qLogEHVI","x":100,"m":58.2,"lo":57.0,"hi":59.4},
{"p":"BC","s":"JES","x":0,"m":3.0,"lo":0.5,"hi":5.5},
{"p":"BC","s":"JES","x":2,"m":7.8,"lo":6.0,"hi":9.6},
{"p":"BC","s":"JES","x":4,"m":17.5,"lo":15.5,"hi":19.5},
{"p":"BC","s":"JES","x":6,"m":24.7,"lo":22.5,"hi":26.9},
{"p":"BC","s":"JES","x":8,"m":31.9,"lo":29.0,"hi":34.8},
{"p":"BC","s":"JES","x":10,"m":34.8,"lo":31.8,"hi":37.8},
{"p":"BC","s":"JES","x":12,"m":37.8,"lo":34.8,"hi":40.8},
{"p":"BC","s":"JES","x":15,"m":43.8,"lo":40.8,"hi":46.8},
{"p":"BC","s":"JES","x":20,"m":47.4,"lo":45.4,"hi":49.4},
{"p":"BC","s":"JES","x":25,"m":48.6,"lo":47.2,"hi":50.0},
{"p":"BC","s":"JES","x":30,"m":49.5,"lo":48.3,"hi":50.7},
{"p":"BC","s":"JES","x":40,"m":51.0,"lo":49.8,"hi":52.2},
{"p":"BC","s":"JES","x":50,"m":52.4,"lo":51.2,"hi":53.6},
{"p":"BC","s":"JES","x":60,"m":53.4,"lo":52.2,"hi":54.6},
{"p":"BC","s":"JES","x":75,"m":54.3,"lo":53.1,"hi":55.5},
{"p":"BC","s":"JES","x":100,"m":55.2,"lo":54.0,"hi":56.4},

{"p":"VS","s":"Rand","x":0,"m":140.4,"lo":138.4,"hi":142.4},
{"p":"VS","s":"Rand","x":1,"m":142.5,"lo":141.0,"hi":144.0},
{"p":"VS","s":"Rand","x":2,"m":144.4,"lo":142.9,"hi":145.9},
{"p":"VS","s":"Rand","x":3,"m":145.5,"lo":144.0,"hi":147.0},
{"p":"VS","s":"Rand","x":5,"m":147.8,"lo":146.3,"hi":149.3},
{"p":"VS","s":"Rand","x":7,"m":149.0,"lo":147.5,"hi":150.5},
{"p":"VS","s":"Rand","x":10,"m":151.1,"lo":149.6,"hi":152.6},
{"p":"VS","s":"Rand","x":13,"m":153.0,"lo":151.5,"hi":154.5},
{"p":"VS","s":"Rand","x":15,"m":154.5,"lo":153.0,"hi":156.0},
{"p":"VS","s":"Rand","x":20,"m":155.2,"lo":153.7,"hi":156.7},
{"p":"VS","s":"Rand","x":25,"m":156.7,"lo":155.2,"hi":158.2},
{"p":"VS","s":"Rand","x":30,"m":159.0,"lo":157.5,"hi":160.5},
{"p":"VS","s":"Rand","x":35,"m":160.0,"lo":158.5,"hi":161.5},
{"p":"VS","s":"Rand","x":40,"m":161.2,"lo":159.7,"hi":162.7},
{"p":"VS","s":"Rand","x":45,"m":162.4,"lo":160.9,"hi":163.9},
{"p":"VS","s":"Rand","x":50,"m":163.4,"lo":161.9,"hi":164.9},
{"p":"VS","s":"Rand","x":55,"m":164.5,"lo":163.0,"hi":166.0},
{"p":"VS","s":"Rand","x":60,"m":165.7,"lo":164.2,"hi":167.2},
{"p":"VS","s":"Rand","x":65,"m":167.0,"lo":165.5,"hi":168.5},
{"p":"VS","s":"Rand","x":70,"m":167.9,"lo":166.4,"hi":169.4},
{"p":"VS","s":"Rand","x":75,"m":168.5,"lo":167.0,"hi":170.0},
{"p":"VS","s":"Rand","x":80,"m":169.0,"lo":167.5,"hi":170.5},
{"p":"VS","s":"Rand","x":85,"m":170.2,"lo":168.7,"hi":171.7},
{"p":"VS","s":"Rand","x":90,"m":170.8,"lo":169.3,"hi":172.3},
{"p":"VS","s":"Rand","x":95,"m":171.2,"lo":169.7,"hi":172.7},
{"p":"VS","s":"Rand","x":100,"m":171.7,"lo":170.2,"hi":173.2},
{"p":"VS","s":"qEHVI","x":0,"m":140.0,"lo":138.5,"hi":141.5},
{"p":"VS","s":"qEHVI","x":1,"m":175.0,"lo":173.5,"hi":176.5},
{"p":"VS","s":"qEHVI","x":2,"m":194.0,"lo":192.8,"hi":195.2},
{"p":"VS","s":"qEHVI","x":3,"m":205.0,"lo":204.0,"hi":206.0},
{"p":"VS","s":"qEHVI","x":5,"m":217.0,"lo":216.0,"hi":218.0},
{"p":"VS","s":"qEHVI","x":7,"m":223.6,"lo":222.8,"hi":224.4},
{"p":"VS","s":"qEHVI","x":10,"m":228.0,"lo":227.2,"hi":228.8},
{"p":"VS","s":"qEHVI","x":15,"m":230.3,"lo":229.5,"hi":231.1},
{"p":"VS","s":"qEHVI","x":20,"m":231.9,"lo":231.1,"hi":232.7},
{"p":"VS","s":"qEHVI","x":30,"m":234.1,"lo":233.3,"hi":234.9},
{"p":"VS","s":"qEHVI","x":40,"m":234.8,"lo":234.0,"hi":235.6},
{"p":"VS","s":"qEHVI","x":50,"m":235.3,"lo":234.5,"hi":236.1},
{"p":"VS","s":"qEHVI","x":60,"m":235.8,"lo":235.0,"hi":236.6},
{"p":"VS","s":"qEHVI","x":75,"m":236.6,"lo":235.8,"hi":237.4},
{"p":"VS","s":"qEHVI","x":90,"m":237.3,"lo":236.5,"hi":238.1},
{"p":"VS","s":"qEHVI","x":100,"m":237.7,"lo":236.9,"hi":238.5},
{"p":"VS","s":"qLogEHVI","x":0,"m":140.0,"lo":138.5,"hi":141.5},
{"p":"VS","s":"qLogEHVI","x":1,"m":178.0,"lo":176.5,"hi":179.5},
{"p":"VS","s":"qLogEHVI","x":2,"m":195.8,"lo":194.6,"hi":197.0},
{"p":"VS","s":"qLogEHVI","x":3,"m":206.9,"lo":205.9,"hi":207.9},
{"p":"VS","s":"qLogEHVI","x":5,"m":222.6,"lo":221.8,"hi":223.4},
{"p":"VS","s":"qLogEHVI","x":7,"m":231.5,"lo":230.8,"hi":232.2},
{"p":"VS","s":"qLogEHVI","x":10,"m":238.6,"lo":237.9,"hi":239.3},
{"p":"VS","s":"qLogEHVI","x":15,"m":242.0,"lo":241.3,"hi":242.7},
{"p":"VS","s":"qLogEHVI","x":20,"m":243.0,"lo":242.3,"hi":243.7},
{"p":"VS","s":"qLogEHVI","x":30,"m":244.2,"lo":243.5,"hi":244.9},
{"p":"VS","s":"qLogEHVI","x":50,"m":244.5,"lo":243.8,"hi":245.2},
{"p":"VS","s":"qLogEHVI","x":75,"m":244.8,"lo":244.1,"hi":245.5},
{"p":"VS","s":"qLogEHVI","x":100,"m":245.0,"lo":244.3,"hi":245.7},
{"p":"VS","s":"JES","x":0,"m":140.0,"lo":137.5,"hi":142.5},
{"p":"VS","s":"JES","x":1,"m":162.3,"lo":160.8,"hi":163.8},
{"p":"VS","s":"JES","x":2,"m":175.7,"lo":174.2,"hi":177.2},
{"p":"VS","s":"JES","x":3,"m":183.5,"lo":182.0,"hi":185.0},
{"p":"VS","s":"JES","x":5,"m":193.5,"lo":192.2,"hi":194.8},
{"p":"VS","s":"JES","x":7,"m":202.5,"lo":201.3,"hi":203.7},
{"p":"VS","s":"JES","x":10,"m":209.2,"lo":208.1,"hi":210.3},
{"p":"VS","s":"JES","x":15,"m":214.7,"lo":213.7,"hi":215.7},
{"p":"VS","s":"JES","x":20,"m":216.9,"lo":215.9,"hi":217.9},
{"p":"VS","s":"JES","x":30,"m":219.9,"lo":218.9,"hi":220.9},
{"p":"VS","s":"JES","x":40,"m":221.4,"lo":220.4,"hi":222.4},
{"p":"VS","s":"JES","x":50,"m":223.0,"lo":222.0,"hi":224.0},
{"p":"VS","s":"JES","x":60,"m":224.1,"lo":223.1,"hi":225.1},
{"p":"VS","s":"JES","x":75,"m":225.9,"lo":224.9,"hi":226.9},
{"p":"VS","s":"JES","x":90,"m":227.2,"lo":226.2,"hi":228.2},
{"p":"VS","s":"JES","x":100,"m":228.1,"lo":227.1,"hi":229.1}
]},
"concat": [
{
 "title": {"text": "Laser Plasma (\ud835\udc51 = 4, \ud835\udc40 = 3)", "dy": 11},
 "width": 251, "height": 178,
 "data": {"name": "d"},
 "transform": [{"filter": "datum.p === 'LP'"}],
 "resolve": {"axis": {"y": "independent"}},
 "layer": [
  {"mark": {"type": "area", "opacity": 0.3},
   "encoding": {
    "x": {"field": "x", "type": "quantitative", "title": null, "scale": {"domain": [-10, 210], "nice": false, "zero": false}, "axis": {"values": [0, 100, 200]}},
    "y": {"field": "lo", "type": "quantitative", "title": "Hypervolume", "scale": {"domain": [0.547, 3.183], "nice": false, "zero": false}, "axis": {"values": [1, 2, 3], "format": "d"}},
    "y2": {"field": "hi"},
    "fill": {"field": "s", "type": "nominal", "scale": {"domain": ["JES", "qLogEHVI", "qEHVI", "Rand"], "range": ["#d62728", "#ff7f0e", "#1f77b4", "#000000"]}, "legend": null}
   }},
  {"mark": {"type": "line", "strokeWidth": 3.5},
   "encoding": {
    "x": {"field": "x", "type": "quantitative", "title": null},
    "y": {"field": "m", "type": "quantitative", "axis": {"orient": "right", "title": "1e7", "titleAngle": 0, "titleX": -253, "titleY": -4, "titleAlign": "right", "titleBaseline": "alphabetic", "titleFontSize": 8, "titlePadding": 0, "labels": false, "ticks": false, "domain": false, "grid": false}},
    "color": {"field": "s", "type": "nominal", "title": null, "scale": {"domain": ["Rand", "qEHVI", "qLogEHVI", "JES"], "range": ["#000000", "#1f77b4", "#ff7f0e", "#d62728"]}, "legend": {"orient": "none", "legendX": 81, "legendY": 462.5, "labelFont": "Liberation Serif", "labelFontSize": 22}}
   }}
 ]
},
{
 "title": {"text": "Cell Network (\ud835\udc51 = 30, \ud835\udc40 = 2)"},
 "width": 251, "height": 178,
 "data": {"name": "d"},
 "transform": [{"filter": "datum.p === 'CN'"}],
 "layer": [
  {"mark": {"type": "area", "opacity": 0.3},
   "encoding": {
    "x": {"field": "x", "type": "quantitative", "title": null, "scale": {"domain": [-10, 210], "nice": false, "zero": false}, "axis": {"values": [0, 100, 200]}},
    "y": {"field": "lo", "type": "quantitative", "title": null, "scale": {"domain": [0.02568, 0.06316], "nice": false, "zero": false}, "axis": {"values": [0.04, 0.06], "format": ".2f"}},
    "y2": {"field": "hi"},
    "fill": {"field": "s", "type": "nominal", "scale": {"domain": ["JES", "qLogEHVI", "qEHVI", "Rand"], "range": ["#d62728", "#ff7f0e", "#1f77b4", "#000000"]}, "legend": null}
   }},
  {"mark": {"type": "line", "strokeWidth": 3.5},
   "encoding": {
    "x": {"field": "x", "type": "quantitative", "title": null},
    "y": {"field": "m", "type": "quantitative", "title": null},
    "color": {"field": "s", "type": "nominal", "title": null, "scale": {"domain": ["Rand", "qEHVI", "qLogEHVI", "JES"], "range": ["#000000", "#1f77b4", "#ff7f0e", "#d62728"]}, "legend": {"orient": "none", "legendX": 81, "legendY": 462.5, "labelFont": "Liberation Serif", "labelFontSize": 22}}
   }}
 ]
},
{
 "title": {"text": "DTLZ2 (\ud835\udc51 = 6, \ud835\udc40 = 2)"},
 "width": 251, "height": 178,
 "data": {"name": "d"},
 "transform": [{"filter": "datum.p === 'DT'"}],
 "layer": [
  {"mark": {"type": "area", "opacity": 0.3},
   "encoding": {
    "x": {"field": "x", "type": "quantitative", "title": null, "scale": {"domain": [-5, 105], "nice": false, "zero": false}, "axis": {"values": [0, 50, 100]}},
    "y": {"field": "lo", "type": "quantitative", "title": null, "scale": {"domain": [0.0302, 0.4316], "nice": false, "zero": false}, "axis": {"values": [0.2, 0.4], "format": ".1f"}},
    "y2": {"field": "hi"},
    "fill": {"field": "s", "type": "nominal", "scale": {"domain": ["JES", "qLogEHVI", "qEHVI", "Rand"], "range": ["#d62728", "#ff7f0e", "#1f77b4", "#000000"]}, "legend": null}
   }},
  {"mark": {"type": "line", "strokeWidth": 3.5},
   "encoding": {
    "x": {"field": "x", "type": "quantitative", "title": null},
    "y": {"field": "m", "type": "quantitative", "title": null},
    "color": {"field": "s", "type": "nominal", "title": null, "scale": {"domain": ["Rand", "qEHVI", "qLogEHVI", "JES"], "range": ["#000000", "#1f77b4", "#ff7f0e", "#d62728"]}, "legend": {"orient": "none", "legendX": 81, "legendY": 462.5, "labelFont": "Liberation Serif", "labelFontSize": 22}}
   }}
 ]
},
{
 "title": {"text": "ZDT1 (\ud835\udc51 = 6, \ud835\udc40 = 2)"},
 "width": 251, "height": 178,
 "data": {"name": "d"},
 "transform": [{"filter": "datum.p === 'ZD'"}],
 "layer": [
  {"mark": {"type": "area", "opacity": 0.3},
   "encoding": {
    "x": {"field": "x", "type": "quantitative", "title": "Function Evaluations", "scale": {"domain": [-5, 105], "nice": false, "zero": false}, "axis": {"values": [0, 50, 100]}},
    "y": {"field": "lo", "type": "quantitative", "title": "Hypervolume", "scale": {"domain": [96.0, 121.54], "nice": false, "zero": false}, "axis": {"values": [100, 110, 120]}},
    "y2": {"field": "hi"},
    "fill": {"field": "s", "type": "nominal", "scale": {"domain": ["JES", "qLogEHVI", "qEHVI", "Rand"], "range": ["#d62728", "#ff7f0e", "#1f77b4", "#000000"]}, "legend": null}
   }},
  {"mark": {"type": "line", "strokeWidth": 3.5},
   "encoding": {
    "x": {"field": "x", "type": "quantitative", "title": "Function Evaluations"},
    "y": {"field": "m", "type": "quantitative", "title": "Hypervolume"},
    "color": {"field": "s", "type": "nominal", "title": null, "scale": {"domain": ["Rand", "qEHVI", "qLogEHVI", "JES"], "range": ["#000000", "#1f77b4", "#ff7f0e", "#d62728"]}, "legend": {"orient": "none", "legendX": 81, "legendY": 462.5, "labelFont": "Liberation Serif", "labelFontSize": 22}}
   }}
 ]
},
{
 "title": {"text": "BraninCurrin (\ud835\udc51 = 2, \ud835\udc40 = 2)"},
 "width": 251, "height": 178,
 "data": {"name": "d"},
 "transform": [{"filter": "datum.p === 'BC'"}],
 "layer": [
  {"mark": {"type": "area", "opacity": 0.3},
   "encoding": {
    "x": {"field": "x", "type": "quantitative", "title": "Function Evaluations", "scale": {"domain": [-5, 105], "nice": false, "zero": false}, "axis": {"values": [0, 50, 100]}},
    "y": {"field": "lo", "type": "quantitative", "title": null, "scale": {"domain": [-2.8, 61.0], "nice": false, "zero": false}, "axis": {"values": [0, 25, 50]}},
    "y2": {"field": "hi"},
    "fill": {"field": "s", "type": "nominal", "scale": {"domain": ["JES", "qLogEHVI", "qEHVI", "Rand"], "range": ["#d62728", "#ff7f0e", "#1f77b4", "#000000"]}, "legend": null}
   }},
  {"mark": {"type": "line", "strokeWidth": 3.5},
   "encoding": {
    "x": {"field": "x", "type": "quantitative", "title": "Function Evaluations"},
    "y": {"field": "m", "type": "quantitative", "title": null},
    "color": {"field": "s", "type": "nominal", "title": null, "scale": {"domain": ["Rand", "qEHVI", "qLogEHVI", "JES"], "range": ["#000000", "#1f77b4", "#ff7f0e", "#d62728"]}, "legend": {"orient": "none", "legendX": 81, "legendY": 462.5, "labelFont": "Liberation Serif", "labelFontSize": 22}}
   }}
 ]
},
{
 "title": {"text": "Vehicle Safety (\ud835\udc51 = 5, \ud835\udc40 = 3)", "dy": 11},
 "width": 251, "height": 178,
 "data": {"name": "d"},
 "transform": [{"filter": "datum.p === 'VS'"}],
 "layer": [
  {"mark": {"type": "area", "opacity": 0.3},
   "encoding": {
    "x": {"field": "x", "type": "quantitative", "title": "Function Evaluations", "scale": {"domain": [-5, 105], "nice": false, "zero": false}, "axis": {"values": [0, 50, 100]}},
    "y": {"field": "lo", "type": "quantitative", "title": null, "scale": {"domain": [131.4, 250.2], "nice": false, "zero": false}, "axis": {"values": [150, 200, 250]}},
    "y2": {"field": "hi"},
    "fill": {"field": "s", "type": "nominal", "scale": {"domain": ["JES", "qLogEHVI", "qEHVI", "Rand"], "range": ["#d62728", "#ff7f0e", "#1f77b4", "#000000"]}, "legend": null}
   }},
  {"mark": {"type": "line", "strokeWidth": 3.5},
   "encoding": {
    "x": {"field": "x", "type": "quantitative", "title": "Function Evaluations"},
    "y": {"field": "m", "type": "quantitative", "title": null},
    "color": {"field": "s", "type": "nominal", "title": null, "scale": {"domain": ["Rand", "qEHVI", "qLogEHVI", "JES"], "range": ["#000000", "#1f77b4", "#ff7f0e", "#d62728"]}, "legend": {"orient": "none", "legendX": 81, "legendY": 462.5, "labelFont": "Liberation Serif", "labelFontSize": 22}}
   }}
 ]
}
],
"config": {
 "font": "Liberation Serif",
 "style": {"guide-label": {"font": "Liberation Serif", "fontSize": 22, "fill": "#000000"}, "guide-title": {"font": "Liberation Serif"}},
 "view": {"stroke": "#000000", "strokeWidth": 1},
 "axis": {"labelFont": "Liberation Serif", "labelFontSize": 22, "labelColor": "#000000", "titleFont": "Liberation Serif", "titleFontSize": 23, "titleFontWeight": "normal", "titleColor": "#000000", "grid": false, "tickColor": "#000000", "tickSize": 4, "tickWidth": 1, "domainColor": "#000000", "domainWidth": 1, "labelPadding": 2, "labelFlush": false, "labelOverlap": false},
 "axisX": {"titlePadding": 1},
 "axisY": {"titlePadding": 5},
 "legend": {"direction": "horizontal", "columns": 4, "symbolType": "M-1,0H3.545", "symbolSize": 484, "symbolStrokeWidth": 4, "symbolOpacity": 1, "labelFont": "Liberation Serif", "labelFontWeight": "normal", "labelFontSize": 22, "labelColor": "#000000", "labelOffset": 45, "columnPadding": 45, "padding": 9, "strokeColor": "#d0d0d0", "cornerRadius": 4, "fillColor": "#ffffff"},
 "title": {"font": "Liberation Serif, DejaVu Serif", "fontSize": 22, "fontWeight": "normal", "color": "#000000", "offset": 1, "baseline": "alphabetic", "frame": "group", "anchor": "middle"}
}
}
